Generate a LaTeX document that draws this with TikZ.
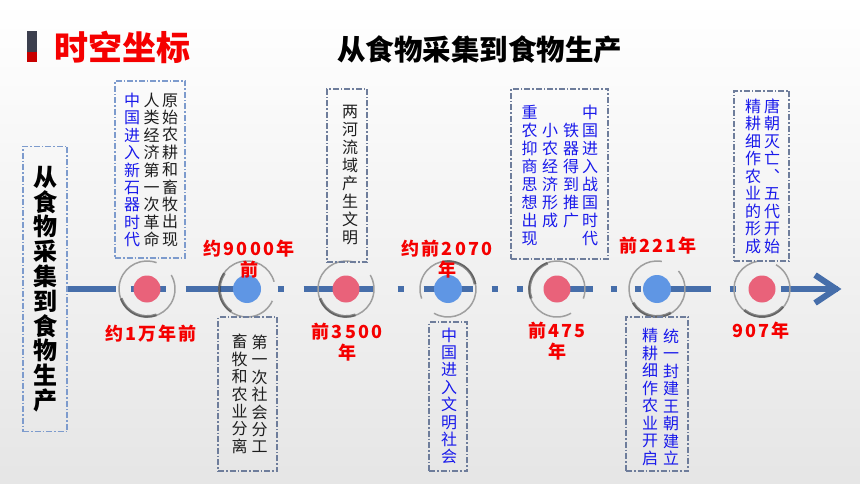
\documentclass[tikz,border=0pt]{standalone}
\usepackage{fontspec}
\newfontfamily\cjk{Noto Sans CJK SC}
\newfontfamily\cjklbl{Noto Sans CJK SC}[LetterSpace=12]
\usetikzlibrary{calc}
\definecolor{tlblue}{RGB}{70,110,170}
\definecolor{dotred}{RGB}{233,98,122}
\definecolor{dotblue}{RGB}{95,150,228}
\definecolor{boxa}{RGB}{125,155,205}
\definecolor{boxb}{RGB}{110,125,155}
\definecolor{txtblue}{RGB}{25,25,235}
\definecolor{txtblack}{RGB}{30,30,30}
\definecolor{lblred}{RGB}{245,0,0}
\definecolor{markdark}{RGB}{60,63,78}
\definecolor{markred}{RGB}{200,0,0}
\newcommand\ensoring[2]{%
  \draw[gray!75, line width=1.5pt] (#1.center) ++(#2+40:28pt) arc[start angle=#2+40, end angle=#2+360, radius=28pt];
  \draw[black!80, line width=2.8pt, opacity=0.55] (#1.center) ++(#2+170:27.5pt) arc[start angle=#2+170, end angle=#2+260, radius=27.5pt];
}
\begin{document}
\begin{tikzpicture}[x=1pt,y=-1pt,
  framea/.style={draw=boxa, line width=1.1pt, dash pattern=on 6pt off 2pt on 1.5pt off 2pt, inner sep=0},
  frameb/.style={draw=boxb, line width=1.1pt, dash pattern=on 6pt off 2pt on 1.5pt off 2pt, inner sep=0},
  vcol/.style={inner sep=0, align=center, text=txtblack, font=\cjk\fontsize{16}{17.4}\selectfont},
  vblue/.style={vcol, text=txtblue},
  lbl/.style={inner sep=0, align=center, text=lblred, font=\cjklbl\bfseries\fontsize{18}{21}\selectfont},
  dotr/.style={circle, fill=dotred, minimum size=27pt, inner sep=0},
  dotb/.style={circle, fill=dotblue, minimum size=28pt, inner sep=0},
  tl/.style={draw=tlblue, line width=6pt}
]
\useasboundingbox (0,0) rectangle (860,484);
\fill[top color=white, bottom color=gray!20] (0,0) rectangle (860,484);

% title
\fill[markdark] (27,31) rectangle (37,52);
\fill[markred] (27,52) rectangle (37,62);
\node[inner sep=0, text=lblred, font=\cjk\bfseries\fontsize{34}{40}\selectfont] (t1) at (122,47.5) {时空坐标};
\node[inner sep=0, text=black, font=\cjk\bfseries\fontsize{28.5}{34}\selectfont] (t2) at (479.5,50) {从食物采集到食物生产};

% left box
\node[framea, minimum width=44pt, minimum height=285pt] (lbox) at (45,289) {};
\node[inner sep=0, align=center, font=\cjk\bfseries\fontsize{24}{24.8}\selectfont] (ltxt) at (46,289) {从\\食\\物\\采\\集\\到\\食\\物\\生\\产};

% timeline
\coordinate (tle) at (838,289);
\draw[tl, dash pattern=on 48pt off 15pt on 35pt off 20pt on 70pt off 22pt on 6pt off 20pt on 70pt off 24pt on 6pt off 20pt on 49pt off 19pt on 6pt off 19pt on 6pt off 21pt on 49pt off 18pt on 6pt off 18pt on 6pt off 5pt on 65pt off 19pt on 6pt off 45pt on 80pt] (lbox.east) -- (tle);
\coordinate (ah1) at (815,275);
\coordinate (ah2) at (815,303);
\coordinate (tip) at (836,289);
\draw[tl, line join=miter] (ah1) -- (tip) -- (ah2);

% dots
\node[dotr] (d1) at (147,289) {};
\node[dotb] (d2) at (247,289) {};
\node[dotr] (d3) at (346,289) {};
\node[dotb] (d4) at (448,289) {};
\node[dotr] (d5) at (557,289) {};
\node[dotb] (d6) at (657,289) {};
\node[dotr] (d7) at (762,289) {};
\ensoring{d1}{30}
\ensoring{d2}{-25}
\ensoring{d3}{30}
\ensoring{d4}{200}
\ensoring{d5}{-60}
\ensoring{d6}{40}
\ensoring{d7}{60}

% labels
\node[lbl] (l1) at (151,334) {约1万年前};
\node[lbl] (l2) at (249,259.5) {约9000年\\前};
\node[lbl] (l3) at (347,342.5) {前3500\\年};
\node[lbl] (l4) at (447,259.5) {约前2070\\年};
\node[lbl] (l5) at (557,341.5) {前475\\年};
\node[lbl] (l6) at (658,246) {前221年};
\node[lbl] (l7) at (761,331) {907年};

% box 1
\node[framea, minimum width=70pt, minimum height=177pt] (b1) at (150,169.5) {};
\node[vcol] (b1c1) at (170,170) {原\\始\\农\\耕\\和\\畜\\牧\\出\\现};
\node[vcol] (b1c2) at (151.5,170) {人\\类\\经\\济\\第\\一\\次\\革\\命};
\node[vblue] (b1c3) at (132,170) {中\\国\\进\\入\\新\\石\\器\\时\\代};

% box 2
\node[frameb, minimum width=59pt, minimum height=154pt] (b2) at (247.5,394) {};
\node[vcol] (b2c1) at (259.5,394) {第\\一\\次\\社\\会\\分\\工};
\node[vcol] (b2c2) at (239.5,394) {畜\\牧\\和\\农\\业\\分\\离};

% box 3
\node[frameb, minimum width=40pt, minimum height=173pt] (b3) at (347,175.5) {};
\node[vcol, font=\cjk\fontsize{16}{18}\selectfont] (b3c1) at (350,175) {两\\河\\流\\域\\产\\生\\文\\明};

% box 4
\node[frameb, minimum width=38pt, minimum height=149pt] (b4) at (448,396.5) {};
\node[vblue] (b4c1) at (449,396) {中\\国\\进\\入\\文\\明\\社\\会};

% box 5
\node[frameb, minimum width=97pt, minimum height=170pt] (b5) at (559.5,174) {};
\node[vblue, font=\cjk\fontsize{16}{18}\selectfont] (b5c1) at (590,175) {中\\国\\进\\入\\战\\国\\时\\代};
\node[vblue, font=\cjk\fontsize{16}{18}\selectfont] (b5c2) at (571,176) {铁\\器\\得\\到\\推\\广};
\node[vblue, font=\cjk\fontsize{16}{18}\selectfont] (b5c3) at (550,176) {小\\农\\经\\济\\形\\成};
\node[vblue, font=\cjk\fontsize{16}{18}\selectfont] (b5c4) at (529.5,175) {重\\农\\抑\\商\\思\\想\\出\\现};

% box 6
\node[frameb, minimum width=62pt, minimum height=154pt] (b6) at (657,394) {};
\node[vblue, font=\cjk\fontsize{16}{17.5}\selectfont] (b6c1) at (671,397) {统\\一\\封\\建\\王\\朝\\建\\立};
\node[vblue, font=\cjk\fontsize{16}{17.5}\selectfont] (b6c2) at (650,397) {精\\耕\\细\\作\\农\\业\\开\\启};

% box 7
\node[frameb, minimum width=55pt, minimum height=170pt] (b7) at (761.5,176) {};
\node[vblue, font=\cjk\fontsize{16}{17.5}\selectfont] (b7c1) at (772,176) {唐\\朝\\灭\\亡\\︑\\五\\代\\开\\始};
\node[vblue, font=\cjk\fontsize{16}{17.5}\selectfont] (b7c2) at (753,176) {精\\耕\\细\\作\\农\\业\\的\\形\\成};
\end{tikzpicture}
\end{document}
